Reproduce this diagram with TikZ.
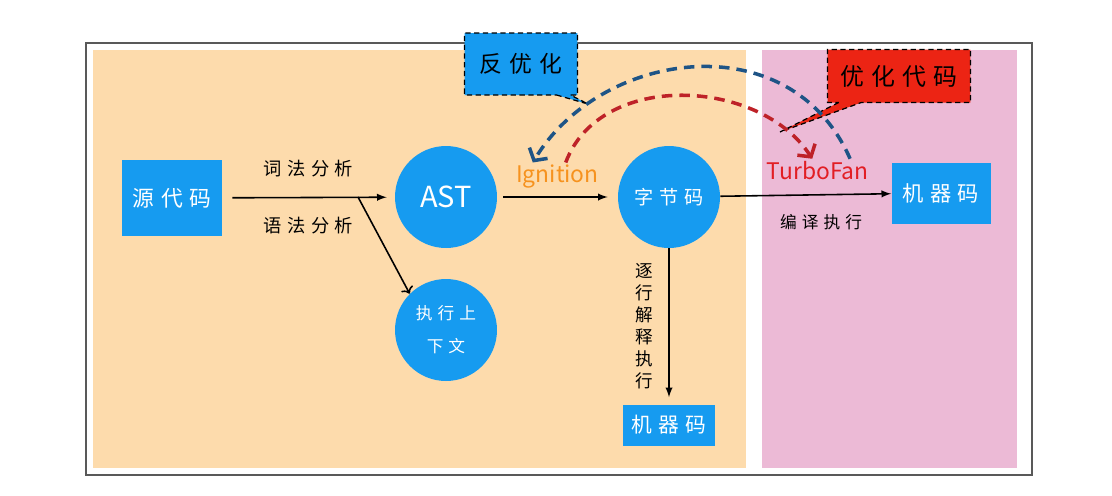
\documentclass[tikz,border=0pt]{standalone}
\usepackage{fontspec}
\usepackage{tikz}
\usetikzlibrary{positioning,shapes.callouts,arrows.meta}
\newfontfamily\cjk{Noto Sans CJK SC}
\newfontfamily\cjkwide[LetterSpace=30]{Noto Sans CJK SC}
\definecolor{peach}{RGB}{253,219,172}
\definecolor{pinkbg}{RGB}{236,186,214}
\definecolor{nodeblue}{RGB}{22,155,240}
\definecolor{calloutred}{RGB}{236,36,20}
\definecolor{ignorange}{RGB}{246,146,30}
\definecolor{turbored}{RGB}{226,30,36}
\definecolor{optred}{RGB}{190,34,40}
\definecolor{deoptblue}{RGB}{30,84,134}

\begin{document}
\begin{tikzpicture}[x=0.02cm, y=-0.02cm,
        box/.style={rectangle, fill=nodeblue, text=white, inner sep=0pt},
        circ/.style={circle, fill=nodeblue, text=white, minimum size=2.04cm, inner sep=0pt},
        lbl/.style={text=black, inner sep=1pt, font=\cjkwide\fontsize{10.4}{12.5}\selectfont},
        flow/.style={-latex, line width=0.9pt, black},
        note/.style={rectangle callout, draw=black, densely dashed, line width=0.7pt, text=black, inner sep=0pt},
        deopt/.style={-{Straight Barb[length=5pt, width=12pt]}, line width=2pt, dash pattern=on 6pt off 4pt, deoptblue},
        opt/.style={-{Straight Barb[length=5pt, width=12pt]}, line width=2pt, dash pattern=on 6pt off 4pt, optred}
    ]
    \useasboundingbox (0,0) rectangle (1112,495);

    % background panels
    \draw[gray!70!black, line width=0.9pt] (86,43) rectangle (1032,475);
    \fill[peach] (93,50) rectangle (746,468);
    \fill[pinkbg] (762,50) rectangle (1017,468);

    % nodes
    \node[box, minimum width=2cm, minimum height=1.52cm, font=\cjkwide\fontsize{12.4}{15}\selectfont] (src) at (172,198) {源代码};
    \node[circ, font=\cjk\fontsize{16.5}{20}\selectfont] (ast) at (446,197) {AST};
    \node[circ, align=center, font=\cjkwide\fontsize{9.5}{18.8}\selectfont] (ctx) at (446,330) {执行上\\下文};
    \node[circ, font=\cjkwide\fontsize{10.9}{13}\selectfont] (bc) at (669,197) {字节码};
    \node[box, minimum width=1.84cm, minimum height=0.82cm, font=\cjkwide\fontsize{11.8}{14}\selectfont] (mc1) at (669,425) {机器码};
    \node[box, minimum width=1.98cm, minimum height=1.22cm, font=\cjkwide\fontsize{12.1}{14}\selectfont] (mc2) at (941,193) {机器码};

    % connectors
    \coordinate (split) at (358,197);
    \draw[flow, shorten <=0.2cm, shorten >=0.16cm] (src) -- node[lbl, above=0.35cm] (lex) {词法分析} node[lbl, below=0.35cm] (syn) {语法分析} (ast);
    \draw[->, line width=0.9pt] (split) -- (ctx.135);
    \draw[flow, shorten <=0.12cm, shorten >=0.2cm] (ast) -- node[above=0.12cm, inner sep=1pt, text=ignorange, font=\cjk\fontsize{13}{15}\selectfont] (ign) {Ignition} (bc);
    \draw[flow] (bc) -- node[pos=0.57, above=0.25cm, inner sep=1pt, text=turbored, font=\cjk\fontsize{13}{15}\selectfont] (turbo) {TurboFan} node[lbl, pos=0.59, below=0.34cm, font=\cjkwide\fontsize{9.5}{12}\selectfont] (comp) {编译执行} (mc2);
    \draw[flow, shorten >=0.14cm] (bc) -- node[lbl, left=0.26cm, align=center, font=\cjk\fontsize{10}{12.5}\selectfont] (interp) {逐\\行\\解\\释\\执\\行} (mc1);

    % callouts
    \node[note, fill=nodeblue, minimum width=2.26cm, minimum height=1.24cm, callout absolute pointer={(588,104)}, callout pointer width=0.28cm, font=\cjkwide\fontsize{13}{15}\selectfont] (deoptnote) at (521,64) {反优化};
    \node[note, fill=calloutred, minimum width=2.86cm, minimum height=1.06cm, callout absolute pointer={(780,132)}, callout pointer width=0.45cm, font=\cjkwide\fontsize{13.6}{16}\selectfont] (optnote) at (899,76) {优化代码};

    % optimise / deoptimise
    \draw[opt] (ign.60) .. controls (600,70) and (760,78) .. (turbo.115);
    \draw[deopt] (turbo.20) .. controls (790,22) and (600,50) .. (ign.150);
\end{tikzpicture}
\end{document}
